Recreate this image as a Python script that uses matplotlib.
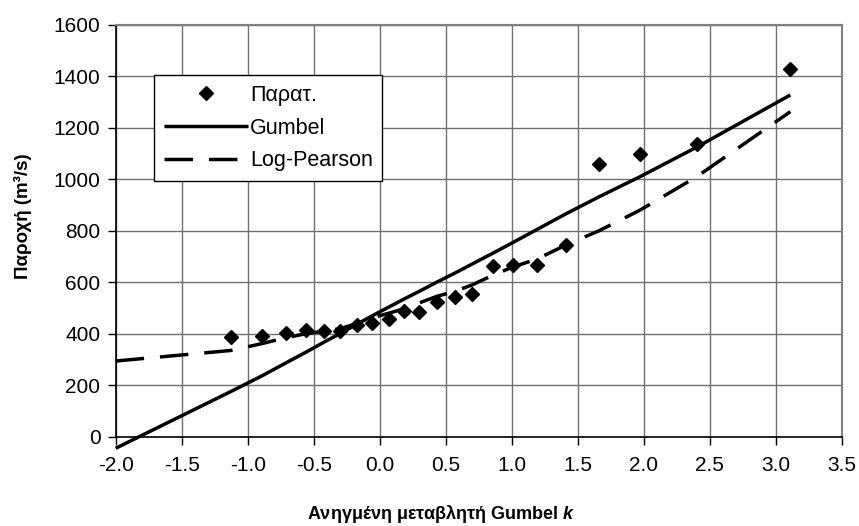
import numpy as np
import matplotlib
matplotlib.use('Agg')
import matplotlib.pyplot as plt

# observed (reduced variate k, discharge)
k_obs = [-1.13, -0.89, -0.71, -0.56, -0.42, -0.30, -0.17, -0.06, 0.07, 0.18, 0.30,
         0.43, 0.57, 0.70, 0.86, 1.01, 1.19, 1.41, 1.66, 1.97, 2.40, 3.11]
q_obs = [389, 391, 404, 415, 412, 412, 434, 443, 456, 488, 486,
         525, 542, 553, 663, 667, 667, 745, 1058, 1097, 1136, 1429]

# fitted curves
k_fit = [-2.0] + k_obs
q_gumbel = [-45, 175, 237, 287, 328, 368, 401, 438, 469, 504, 534, 565,
            600, 636, 671, 714, 755, 805, 866, 932, 1010, 1125, 1328]
q_logp = [294, 335, 362, 385, 400, 410, 420, 440, 462, 480, 497, 520,
          545, 565, 590, 628, 660, 690, 745, 800, 880, 1010, 1263]

plt.rcParams['font.family'] = ['Liberation Sans', 'DejaVu Sans']
plt.rcParams['mathtext.fontset'] = 'custom'
plt.rcParams['mathtext.bfit'] = 'Liberation Sans:bold:italic'
plt.rcParams['mathtext.it'] = 'Liberation Sans:italic'
plt.rcParams['mathtext.bf'] = 'Liberation Sans:bold'
plt.rcParams['mathtext.rm'] = 'Liberation Sans'
fs = 15

fig = plt.figure(figsize=(8.59, 5.26), dpi=100)
ax = fig.add_axes([0.1347, 0.1698, 0.98 - 0.1347, 0.9525 - 0.1698])

ax.plot(k_obs, q_obs, linestyle='none', marker='D', markersize=7, color='black',
        label='Παρατ.', zorder=4)
ax.plot(k_fit, q_gumbel, color='black', lw=2.5, label='Gumbel', clip_on=False,
        solid_capstyle='butt', zorder=3)
ax.plot(k_fit, q_logp, color='black', lw=2.5, dashes=(8.2, 4.6), label='Log-Pearson',
        clip_on=False, zorder=3)

ax.set_xlim(-2.0, 3.5)
ax.set_ylim(0, 1600)
ax.set_xticks(np.arange(-2.0, 3.51, 0.5))
ax.set_xticklabels(['%.1f' % v for v in np.arange(-2.0, 3.51, 0.5)])
ax.set_yticks(np.arange(0, 1601, 200))
ax.tick_params(labelsize=fs, direction='out', length=6, width=1, color='black')
ax.tick_params(axis='x', pad=8)
ax.tick_params(axis='y', pad=5)
ax.grid(True, color='#707070', lw=1)
ax.set_axisbelow(True)
for s in ['top', 'right']:
    ax.spines[s].set_color('#808080')
    ax.spines[s].set_linewidth(1.5)
for s in ['left', 'bottom']:
    ax.spines[s].set_color('black')
    ax.spines[s].set_linewidth(1.2)

ax.set_ylabel('Παροχή (m³/s)', fontsize=13.5, fontweight='bold')
ax.yaxis.set_label_coords(-0.115, 0.536)
ax.set_xlabel(r'Ανηγμένη μεταβλητή Gumbel $\mathbfit{k}$', fontsize=13,
              fontweight='bold')
ax.xaxis.set_label_coords(0.448, -0.161)

leg = ax.legend(loc='upper left', bbox_to_anchor=(154 / 859, 1 - 75 / 526),
                bbox_transform=fig.transFigure, borderaxespad=0, fontsize=15.5,
                handlelength=3.9, handletextpad=0.1, labelspacing=0.55,
                fancybox=False, framealpha=1, edgecolor='black', borderpad=0.45)
leg.get_frame().set_linewidth(1)

fig.savefig('out.png', dpi=100)
